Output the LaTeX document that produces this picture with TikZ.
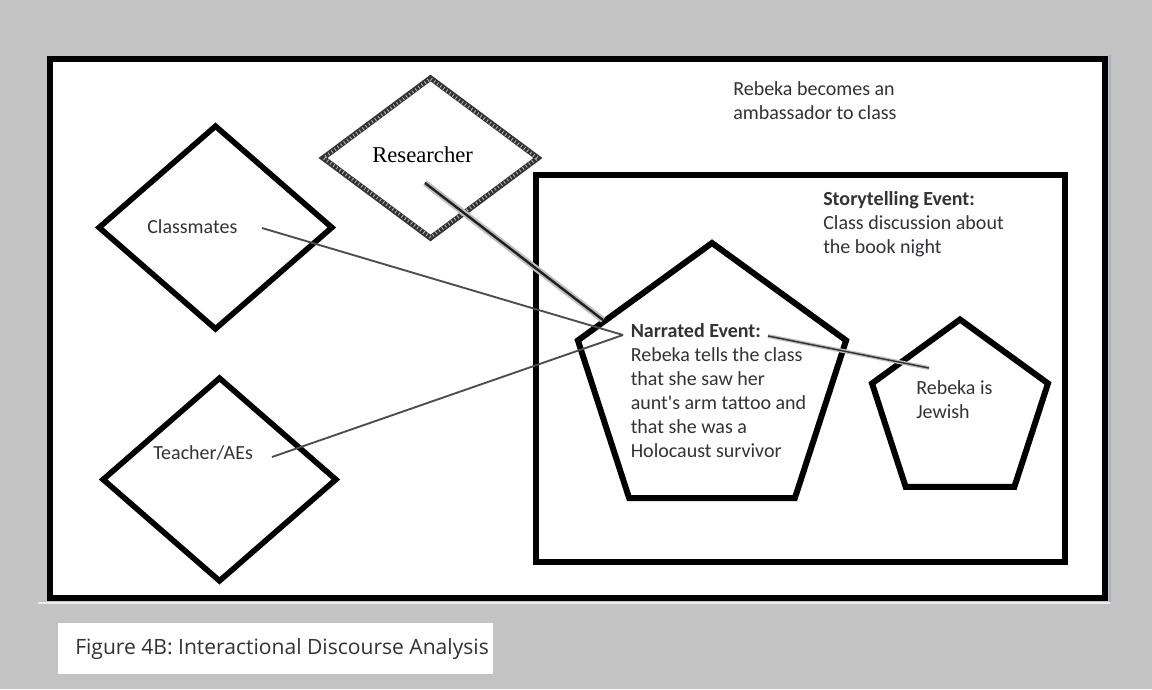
\documentclass[tikz,border=0pt]{standalone}
\usepackage{fontspec}
\setmainfont{Carlito}
\newfontfamily\serifres{Liberation Serif}
\newfontfamily\capfont{Open Sans}
\usetikzlibrary{shapes.geometric}
\definecolor{bggray}{RGB}{195,195,195}
\definecolor{txt}{RGB}{50,50,55}
\tikzset{
  frame/.style={draw=black, line width=4.5pt},
  actor/.style={draw=black, line width=4.2pt, diamond, inner sep=0pt, minimum width=176.25pt, minimum height=153.75pt},
  penta/.style={draw=black, line width=4.5pt, regular polygon, regular polygon sides=5, inner sep=0pt},
  lbl/.style={inner sep=0pt, text=txt, font=\fontsize{15}{18}\selectfont, align=left},
  conn/.style={draw=gray!60!black, line width=1.4pt},
  thickconn/.style={draw=gray!50, line width=4.8pt},
  thickcore/.style={draw=gray!25!black, line width=1.8pt}
}
\begin{document}
\begin{tikzpicture}[x=0.75pt,y=-0.75pt]
\useasboundingbox (0,0) rectangle (1152,689);
\fill[bggray] (0,0) rectangle (1152,689);
% faint light edges
\draw[white!85!gray, line width=1.5pt] (38,603) -- (1110,603);
\draw[white!80!blue!60!gray, line width=1pt] (1110,55) -- (1110,602);
% outer frame
\node[frame, fill=white, minimum width=791.25pt, minimum height=404.25pt, inner sep=0pt] (outer) at (577,328.5) {};
% inner frame
\node[frame, minimum width=396.75pt, minimum height=289.9pt, inner sep=0pt] (inner) at (800.5,368.25) {};

% actors
\node[actor] (cmshape) at (215.5,227.5) {};
\node[actor] (teshape) at (219.5,479.5) {};
\draw[gray!40!black, line width=4pt] (430.5,78) -- (538,158) -- (430.5,238) -- (323,158) -- cycle;
\node[diamond, inner sep=0pt, minimum width=161.25pt, minimum height=120pt, draw=gray!60, line width=2.4pt, dash pattern=on 0.7pt off 2.2pt] (reshape) at (430.5,158) {};

% pentagons
\node[penta, minimum size=211.5pt] (narshape) at (712,384) {};
\node[penta, minimum size=138.75pt] (jewshape) at (960,412) {};

% texts
\node[lbl, anchor=west] (cm) at (147,227) {Classmates};
\node[lbl, anchor=west] (te) at (153,453) {Teacher/AEs};
\node[inner sep=0pt, anchor=west, text=black, font=\serifres\fontsize{17}{18}\selectfont] (re) at (372,155) {Researcher};
\node[lbl, anchor=north west] (amb) at (733,81) {Rebeka becomes an\\ambassador to class};
\node[lbl, anchor=north west] (story) at (823,191) {\textbf{Storytelling Event:}\\Class discussion about\\the book night};
\node[lbl, anchor=north west] (nar) at (630.5,323.5) {\textbf{Narrated Event:}\\Rebeka tells the class\\that she saw her\\aunt\textquotesingle s arm tattoo and\\that she was a\\Holocaust survivor};
\node[lbl, anchor=north west] (jew) at (916,380) {Rebeka is\\Jewish};

% connector end points
\coordinate (hub) at (623,335);
\coordinate (cmEnd) at (262,228);
\coordinate (teEnd) at (272,457);
\coordinate (reStart) at (425,183);
\coordinate (reEnd) at (603,320);
\coordinate (neStart) at (768,336);
\coordinate (neEnd) at (929,368);

\draw[conn] (cmEnd) -- (hub);
\draw[conn] (teEnd) -- (hub);
\draw[thickconn] (reStart) -- (reEnd);
\draw[thickcore] (reStart) -- (reEnd);
\draw[gray!50, line width=3pt] (neStart) -- (neEnd);
\draw[gray!40!black, line width=1.1pt] (neStart) -- (neEnd);

% caption
\node[fill=white, inner sep=0pt, minimum width=326.25pt, minimum height=38.25pt] (capbox) at (275.5,648.5) {};
\node[inner sep=0pt, anchor=west, text=txt, font=\capfont\fontsize{15.8}{18}\selectfont] (cap) at (75,649) {Figure 4B: Interactional Discourse Analysis};
\end{tikzpicture}
\end{document}
